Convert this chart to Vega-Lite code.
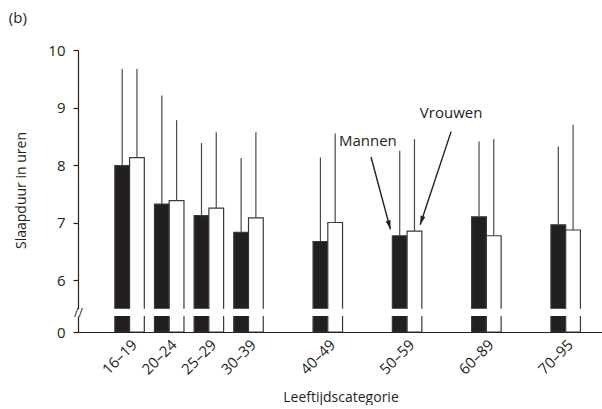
{
  "$schema": "https://vega.github.io/schema/vega-lite/v6.json",
  "background": "white",
  "padding": {"left": 8, "top": 11, "right": 0, "bottom": 0},
  "title": {"text": "(b)", "anchor": "start", "frame": "bounds", "fontSize": 15, "fontWeight": "normal", "color": "#231f20", "offset": 17, "dx": -6},
  "bounds": "flush",
  "spacing": 0,
  "datasets": {
    "sleep": [
      {"age": "16–19", "sex": "Mannen", "mean": 7.99, "upper": 9.67},
      {"age": "16–19", "sex": "Vrouwen", "mean": 8.13, "upper": 9.67},
      {"age": "20–24", "sex": "Mannen", "mean": 7.32, "upper": 9.21},
      {"age": "20–24", "sex": "Vrouwen", "mean": 7.38, "upper": 8.78},
      {"age": "25–29", "sex": "Mannen", "mean": 7.12, "upper": 8.38},
      {"age": "25–29", "sex": "Vrouwen", "mean": 7.25, "upper": 8.57},
      {"age": "30–39", "sex": "Mannen", "mean": 6.83, "upper": 8.12},
      {"age": "30–39", "sex": "Vrouwen", "mean": 7.08, "upper": 8.57},
      {"age": "40–49", "sex": "Mannen", "mean": 6.67, "upper": 8.13},
      {"age": "40–49", "sex": "Vrouwen", "mean": 7.0, "upper": 8.55},
      {"age": "50–59", "sex": "Mannen", "mean": 6.77, "upper": 8.25},
      {"age": "50–59", "sex": "Vrouwen", "mean": 6.85, "upper": 8.45},
      {"age": "60–89", "sex": "Mannen", "mean": 7.1, "upper": 8.41},
      {"age": "60–89", "sex": "Vrouwen", "mean": 6.77, "upper": 8.45},
      {"age": "70–95", "sex": "Mannen", "mean": 6.96, "upper": 8.32},
      {"age": "70–95", "sex": "Vrouwen", "mean": 6.87, "upper": 8.7}
    ],
    "annotations": [
      {"label": "Mannen", "tx": 6.04, "ty": 8.41, "ax": 6.12, "ay": 8.14, "bx": 6.61, "by": 6.88},
      {"label": "Vrouwen", "tx": 8.14, "ty": 8.91, "ax": 8.14, "ay": 8.58, "bx": 7.36, "by": 6.96}
    ]
  },
  "data": {"name": "sleep"},
  "vconcat": [
    {
      "width": 525,
      "height": 258.75,
      "layer": [
        {
          "mark": {"type": "bar", "clip": true, "stroke": "#3a3a3a", "strokeWidth": 1.2},
          "encoding": {
            "x": {"field": "age", "type": "nominal", "scale": {"domain": ["16–19", "20–24", "25–29", "30–39", " ", "40–49", "  ", "50–59", "   ", "60–89", "    ", "70–95"], "paddingInner": 0.256, "paddingOuter": 0.749, "align": 0.62}, "axis": null},
            "xOffset": {"field": "sex", "type": "nominal", "scale": {"domain": ["Mannen", "Vrouwen"]}},
            "y": {"field": "mean", "type": "quantitative", "scale": {"domain": [5.5, 10], "nice": false, "zero": false}, "axis": {"values": [6, 7, 8, 9, 10], "format": "d", "title": "Slaapduur in uren", "titlePadding": 19, "titleY": 140}},
            "color": {"field": "sex", "type": "nominal", "scale": {"domain": ["Mannen", "Vrouwen"], "range": ["#231f20", "#ffffff"]}, "legend": null}
          }
        },
        {
          "mark": {"type": "rule", "color": "#4a4a4a", "strokeWidth": 1.2},
          "encoding": {
            "x": {"field": "age", "type": "nominal", "scale": {"domain": ["16–19", "20–24", "25–29", "30–39", " ", "40–49", "  ", "50–59", "   ", "60–89", "    ", "70–95"], "paddingInner": 0.256, "paddingOuter": 0.749, "align": 0.62}, "axis": null},
            "xOffset": {"field": "sex", "type": "nominal", "scale": {"domain": ["Mannen", "Vrouwen"]}},
            "y": {"field": "mean", "type": "quantitative"},
            "y2": {"field": "upper"}
          }
        },
        {
          "data": {"name": "annotations"},
          "mark": {"type": "text", "fontSize": 15, "color": "#231f20", "align": "center", "baseline": "middle"},
          "encoding": {
            "x": {"field": "tx", "type": "quantitative", "scale": {"domain": [-1.27, 11.971], "nice": false, "zero": false}, "axis": null},
            "y": {"field": "ty", "type": "quantitative"},
            "text": {"field": "label"}
          }
        },
        {
          "data": {"name": "annotations"},
          "mark": {"type": "rule", "color": "#231f20", "strokeWidth": 1.4},
          "encoding": {
            "x": {"field": "ax", "type": "quantitative", "scale": {"domain": [-1.27, 11.971], "nice": false, "zero": false}, "axis": null},
            "x2": {"field": "bx"},
            "y": {"field": "ay", "type": "quantitative"},
            "y2": {"field": "by"}
          }
        },
        {
          "data": {"name": "annotations"},
          "transform": [{"filter": "datum.label == 'Mannen'"}],
          "mark": {"type": "point", "filled": true, "opacity": 1, "color": "#231f20", "shape": "M0,0L-0.55,-2L0.55,-2Z", "size": 81, "angle": -15},
          "encoding": {
            "x": {"field": "bx", "type": "quantitative", "scale": {"domain": [-1.27, 11.971], "nice": false, "zero": false}, "axis": null},
            "y": {"field": "by", "type": "quantitative"}
          }
        },
        {
          "data": {"name": "annotations"},
          "transform": [{"filter": "datum.label == 'Vrouwen'"}],
          "mark": {"type": "point", "filled": true, "opacity": 1, "color": "#231f20", "shape": "M0,0L-0.55,-2L0.55,-2Z", "size": 81, "angle": 18},
          "encoding": {
            "x": {"field": "bx", "type": "quantitative", "scale": {"domain": [-1.27, 11.971], "nice": false, "zero": false}, "axis": null},
            "y": {"field": "by", "type": "quantitative"}
          }
        }
      ],
      "resolve": {"scale": {"x": "independent"}}
    },
    {
      "width": 525,
      "height": 6.25,
      "mark": {"type": "rule", "opacity": 0},
      "encoding": {
        "y": {"datum": 0.5, "type": "quantitative", "scale": {"domain": [0, 1], "nice": false}, "axis": {"values": [0.5], "labelExpr": "'//'", "domain": false, "ticks": false, "title": null, "labelAlign": "center", "labelBaseline": "middle", "labelPadding": 0, "labelFontSize": 12}}
      }
    },
    {
      "width": 525,
      "height": 16,
      "mark": {"type": "bar", "clip": true, "stroke": "#3a3a3a", "strokeWidth": 1.2},
      "encoding": {
        "x": {"field": "age", "type": "nominal", "scale": {"domain": ["16–19", "20–24", "25–29", "30–39", " ", "40–49", "  ", "50–59", "   ", "60–89", "    ", "70–95"], "paddingInner": 0.256, "paddingOuter": 0.749, "align": 0.62}, "axis": {"values": ["16–19", "20–24", "25–29", "30–39", "40–49", "50–59", "60–89", "70–95"], "labelAngle": -45, "labelAlign": "right", "labelBaseline": "top", "labelPadding": 5, "labelFontSize": 15, "ticks": false, "title": "Leeftijdscategorie", "titlePadding": 13, "zindex": 1}},
        "xOffset": {"field": "sex", "type": "nominal", "scale": {"domain": ["Mannen", "Vrouwen"]}},
        "y": {"field": "mean", "type": "quantitative", "scale": {"domain": [0, 1], "nice": false}, "axis": {"values": [0], "title": null}},
        "color": {"field": "sex", "type": "nominal", "scale": {"domain": ["Mannen", "Vrouwen"], "range": ["#231f20", "#ffffff"]}, "legend": null}
      }
    }
  ],
  "resolve": {"scale": {"y": "independent"}},
  "config": {
    "font": "Open Sans",
    "view": {"stroke": null},
    "axis": {
      "grid": false,
      "domainColor": "#231f20",
      "domainWidth": 1.2,
      "tickColor": "#231f20",
      "tickWidth": 1.2,
      "tickSize": 5,
      "labelColor": "#231f20",
      "labelFontSize": 15,
      "labelPadding": 8,
      "titleColor": "#231f20",
      "titleFontSize": 14,
      "titleFontWeight": "normal"
    }
  }
}
